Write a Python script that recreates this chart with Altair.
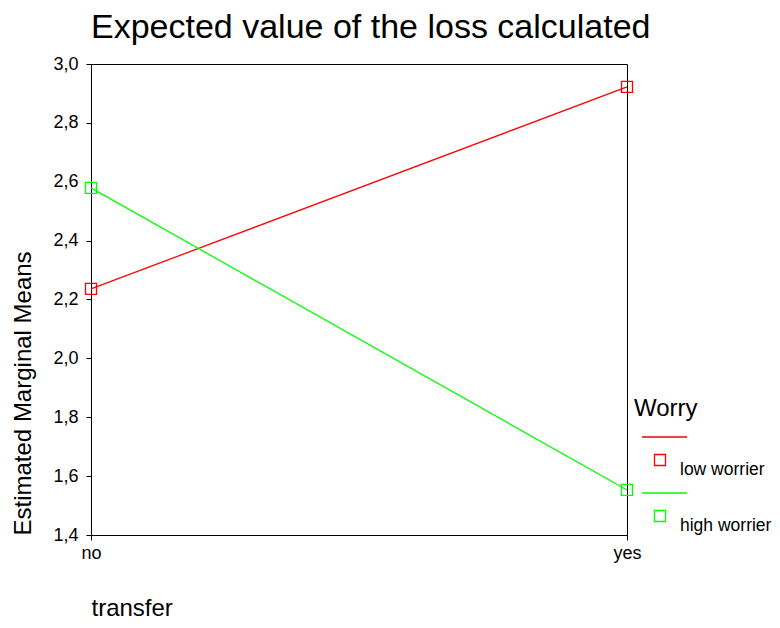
import altair as alt
import pandas as pd

transfer = ["no", "yes"]
worry = ["low worrier", "high worrier"]
low_worrier = [2.236, 2.922]
high_worrier = [2.579, 1.553]
colors = ["#ff0000", "#00ff00"]
y_ticks = [1.4, 1.6, 1.8, 2.0, 2.2, 2.4, 2.6, 2.8, 3.0]

rows = []
for g, vals in zip(worry, [low_worrier, high_worrier]):
    for t, v in zip(transfer, vals):
        rows.append({"transfer": t, "Worry": g, "mean": v})
df = pd.DataFrame(rows)

FONT = "Liberation Sans"

x = alt.X("transfer:N", sort=transfer,
          scale=alt.Scale(type="point", padding=0),
          axis=alt.Axis(title="transfer", labelAngle=0, labelFontSize=18,
                        titleFontSize=24, titleFontWeight="normal",
                        titleAnchor="start", titleAlign="left",
                        titleBaseline="alphabetic", titleY=80, titleX=0,
                        tickSize=5, labelPadding=4, grid=False))
y = alt.Y("mean:Q",
          scale=alt.Scale(domain=[1.4, 3.0], nice=False, zero=False),
          axis=alt.Axis(title="Estimated Marginal Means", values=y_ticks,
                        labelExpr="replace(format(datum.value, '.1f'), '.', ',')",
                        labelFontSize=18, titleFontSize=24,
                        titleFontWeight="normal", titlePadding=17,
                        titleAnchor="start",
                        tickSize=5, labelPadding=8, grid=False))

legend_path = "M-0.3,-3.3H4.2M0.95,-1.55H2.05V-0.45H0.95Z"

lines = alt.Chart(df).mark_line(strokeWidth=1.3).encode(
    x=x, y=y,
    color=alt.Color("Worry:N", sort=worry,
                    scale=alt.Scale(domain=worry, range=colors),
                    legend=alt.Legend(
                        title="Worry", orient="none", legendX=543, legendY=333,
                        symbolType=legend_path, symbolSize=400,
                        symbolStrokeWidth=1.3, symbolFillColor="transparent",
                        labelFontSize=17.5, titleFontSize=24,
                        titleFontWeight="normal", labelOffset=24,
                        rowPadding=11, titlePadding=38, padding=0)),
)
points = alt.Chart(df).mark_point(shape="square", filled=False, size=121,
                                  strokeWidth=1.3, opacity=1).encode(
    x=x, y=y, color=alt.Color("Worry:N", sort=worry,
                              scale=alt.Scale(domain=worry, range=colors),
                              legend=None),
)

chart = alt.layer(lines, points).properties(
    width=536, height=471,
    background="white",
    title=alt.TitleParams("Expected value of the loss calculated",
                          anchor="start", frame="group", fontSize=34,
                          fontWeight="normal", font=FONT, color="black",
                          offset=10),
    autosize=alt.AutoSizeParams(type="none"),
    padding={"left": 83, "top": 56, "right": 145, "bottom": 84},
).configure_view(stroke="black", strokeWidth=1).configure_axis(
    labelFont=FONT, titleFont=FONT, labelColor="black", titleColor="black",
    domainColor="black", tickColor="black", grid=False, domainWidth=1,
).configure_legend(
    labelFont=FONT, titleFont=FONT, labelColor="black", titleColor="black",
)

chart.save("out.html", embed_options={"renderer": "svg", "actions": False})
